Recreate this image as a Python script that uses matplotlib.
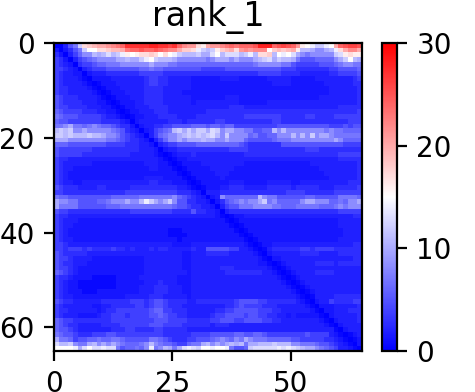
"""
Predicted aligned error heatmap for rank_1
"""

import numpy as np
import matplotlib
matplotlib.use("Agg")
import matplotlib.pyplot as plt

title = "rank_1"
x_ticks = [0, 25, 50]
y_ticks = [0, 20, 40, 60]
cbar_ticks = [0, 10, 20, 30]

# low codes are read in finer steps, codes from "a" up are the value itself
low_code_values = [0, 0.5, 1.3, 1.9, 2.7, 3.8, 5, 6, 7, 8.3]

# one string per row, one base-36 code per cell
pae_rows = [
    "00368 chijk klmno rrrrr ssrrq romll hgkll mnono oopss sopqp olgfe ccefk opqqp",
    "20246 8cffh hijjk noopo oponm mkiih ecbcg ijkhl mlmmm fijij kgbba 99abe hkmmk",
    "42035 799ba bdbce gfghh ihfhf ecbbb caadf bdddb cebhh ibfef da989 9999c dghgg",
    "54203 56789 999aa baace fcbbb a9999 9989a aa9a9 99abc dacbb a8666 77779 acfba",
    "54320 45567 78889 99999 a9998 87777 77777 77777 77899 99988 65555 56667 89988",
    "55432 03455 56666 66677 87766 66666 65555 56666 66666 66655 54444 44455 66667",
    "54332 20233 34444 44455 55544 44444 44444 44444 44455 55544 44333 33344 55556",
    "54333 21022 22333 33334 55443 33332 22222 33332 22222 33333 22222 33333 33345",
    "54333 32101 22233 33334 55443 33332 22222 22222 22222 23333 22222 22333 33344",
    "54433 33210 12223 33334 44433 33332 22222 22222 22222 22222 22222 22233 33334",
    "54433 33321 01222 33334 44433 33222 22222 22222 22222 22222 22222 22233 33334",
    "65444 33332 10122 23334 44433 33332 22222 23332 22222 22222 22222 23333 33334",
    "65444 43332 21012 22334 44433 33332 33333 33332 22222 33333 33333 33333 33334",
    "65544 44333 22101 22333 44443 33333 33333 33444 33333 33333 33333 33333 44444",
    "76555 54443 32210 12233 34443 33333 33444 44444 44444 44444 44444 44444 44445",
    "87666 55555 43321 01223 33444 43333 44444 44444 55555 55544 44455 44445 55555",
    "76655 55555 44443 20233 33334 44344 44445 54444 44444 45544 44444 44444 44555",
    "889a8 87898 77654 42023 34455 66667 77677 67755 55555 55666 66666 66655 56566",
    "bcbc9 9a999 99876 43202 35678 bcaca ccadc 9aa99 88667 7b9b9 99999 99898 87777",
    "ccbcb bbcbb a9986 54320 35789 9abcb cbcdb 9c999 97866 77999 b9b9c 9aa98 88888",
    "aaa99 99999 98876 54432 03579 9a9aa abaa9 9a999 76666 67888 99999 9999a 97777",
    "77766 66666 65555 44433 20345 56666 77777 77776 54444 44466 66666 66666 65555",
    "65555 55544 44444 44433 32023 34444 44444 44555 54444 44444 44455 54444 44444",
    "65555 54444 44444 43333 32101 23334 33333 33333 44444 44444 44444 44444 55555",
    "54433 33333 33333 33333 33210 12233 33333 33333 33333 33333 33333 33333 44444",
    "54333 33322 22222 22223 33221 01222 23333 33333 22222 22222 22223 33333 33334",
    "54332 22222 22222 22222 33222 10122 22233 33322 22222 22222 22222 23333 33334",
    "54322 22222 22222 22222 22222 21012 22223 33222 22222 22222 22222 22333 33334",
    "54322 22222 22222 22223 33322 22101 22222 32222 22222 22222 22222 22233 33334",
    "54332 23333 33333 33333 44333 22210 12222 22333 22222 33333 22333 33333 33444",
    "65444 33334 43333 34444 44444 43321 01222 33444 33333 44444 34444 43334 44445",
    "55444 44444 44444 55555 55555 54443 20333 44444 44444 44445 55544 44445 55555",
    "87766 66666 66777 77788 88888 97654 32023 97777 777b9 88666 66677 66666 88887",
    "a9988 66667 78999 a99be ca9ac 96644 33202 46789 899ac 89777 779aa 99977 8799a",
    "a8888 66666 67778 88888 88888 76654 43320 35668 88999 98877 78888 87778 98999",
    "65544 44444 44444 45555 55555 44446 44332 03444 44444 44444 44444 44444 55555",
    "54433 33333 33333 33333 33333 33333 33332 10122 33333 33333 33333 33333 33344",
    "54333 22222 22222 22222 22222 22222 22222 21012 22222 22222 22222 22222 33333",
    "54332 22222 22222 22222 22222 22222 22222 22101 22222 22222 22222 22222 33333",
    "54322 22222 22222 22222 22221 11222 22222 22210 12222 22222 22222 22222 23333",
    "54322 22222 22222 22222 22221 11122 22222 22221 01222 22222 22222 22222 23333",
    "54332 22222 22222 22222 22222 21222 22222 22222 10122 22222 22222 22222 33333",
    "55433 33333 33333 33333 33333 22223 33333 33333 21012 23333 33333 33333 33344",
    "55455 54544 44544 34333 43443 33334 33666 66553 32101 34444 44554 55554 44444",
    "65444 44333 33333 33333 33333 33223 33444 44333 33210 23333 33444 43333 44444",
    "65543 33322 22222 22223 33333 33223 33333 33333 33321 02233 33333 33333 33344",
    "65443 33222 22222 22223 33333 33223 33333 33333 33322 10123 33333 44443 44444",
    "65543 22222 22222 22223 33333 33223 33333 44433 33333 21012 33333 33333 33333",
    "76543 22222 22222 22223 33333 33323 33333 34444 44443 32101 23333 44443 33333",
    "54432 22211 11122 22233 33333 32223 33333 33333 33333 33210 12333 33333 33333",
    "54322 11111 11122 22223 33433 32223 33333 33333 33333 33321 01233 33333 33333",
    "54322 11111 11122 22233 34443 33223 33333 33333 33333 33332 10123 33333 33333",
    "54322 21112 22222 22233 34443 33223 33333 33333 33333 33333 21012 33333 33333",
    "54332 22222 22222 33333 44433 33323 33333 33333 33333 33333 32101 33334 44444",
    "65443 33333 44444 45554 56654 44433 44444 44456 66655 44444 43210 23354 44455",
    "54333 33322 33444 44554 56654 44333 33333 34456 55554 44333 33321 02223 33334",
    "54433 33332 34455 55555 67755 44433 33334 45566 66655 54433 33332 10223 33444",
    "54333 22223 44555 45555 66765 54433 33345 56666 56655 44332 32222 21023 33334",
    "76554 44444 44555 55555 56665 55544 44455 66655 66665 54433 33333 32102 33334",
    "76544 33333 44445 55555 66655 55444 44434 44333 33333 33333 33333 33210 23333",
    "76654 33333 33444 55444 45544 44433 33333 33333 33333 33333 33333 33331 02333",
    "87665 44455 56655 55555 55544 44445 55566 66677 66776 55555 55565 55532 10123",
    "a8875 66778 77887 66666 88765 44455 66678 98798 a9888 77777 66555 55443 21012",
    "dbbc9 88ab9 a9a98 77789 b9877 65578 8ab9a 9abab 8aabb bcbbb 99888 76654 32102",
    "ffffe adfdd edd86 77879 e89ba 8aded cffef fe866 7cddd ddede dcbaa 98765 33210",
]


def code_value(c):
    v = int(c, 36)
    return low_code_values[v] if v < 10 else v


# turn the code strings into a value matrix
pae = np.array([[code_value(c) for c in r.replace(" ", "")] for r in pae_rows])

W, H = 475, 392
fig = plt.figure(figsize=(W / 200, H / 200), dpi=200)
ax = fig.add_axes([54 / W, 1 - 351 / H, 308 / W, 308 / H])
im = ax.imshow(pae, cmap="bwr", vmin=0, vmax=30, aspect="auto", interpolation="nearest",
               extent=(0, pae.shape[1], pae.shape[0], 0))
ax.set_title(title)
ax.set_xticks(x_ticks)
ax.set_yticks(y_ticks)

cax = fig.add_axes([382 / W, 1 - 351 / H, 15 / W, 308 / H])
cb = fig.colorbar(im, cax=cax)
cb.set_ticks(cbar_ticks)

fig.savefig("out.png", dpi=200)
